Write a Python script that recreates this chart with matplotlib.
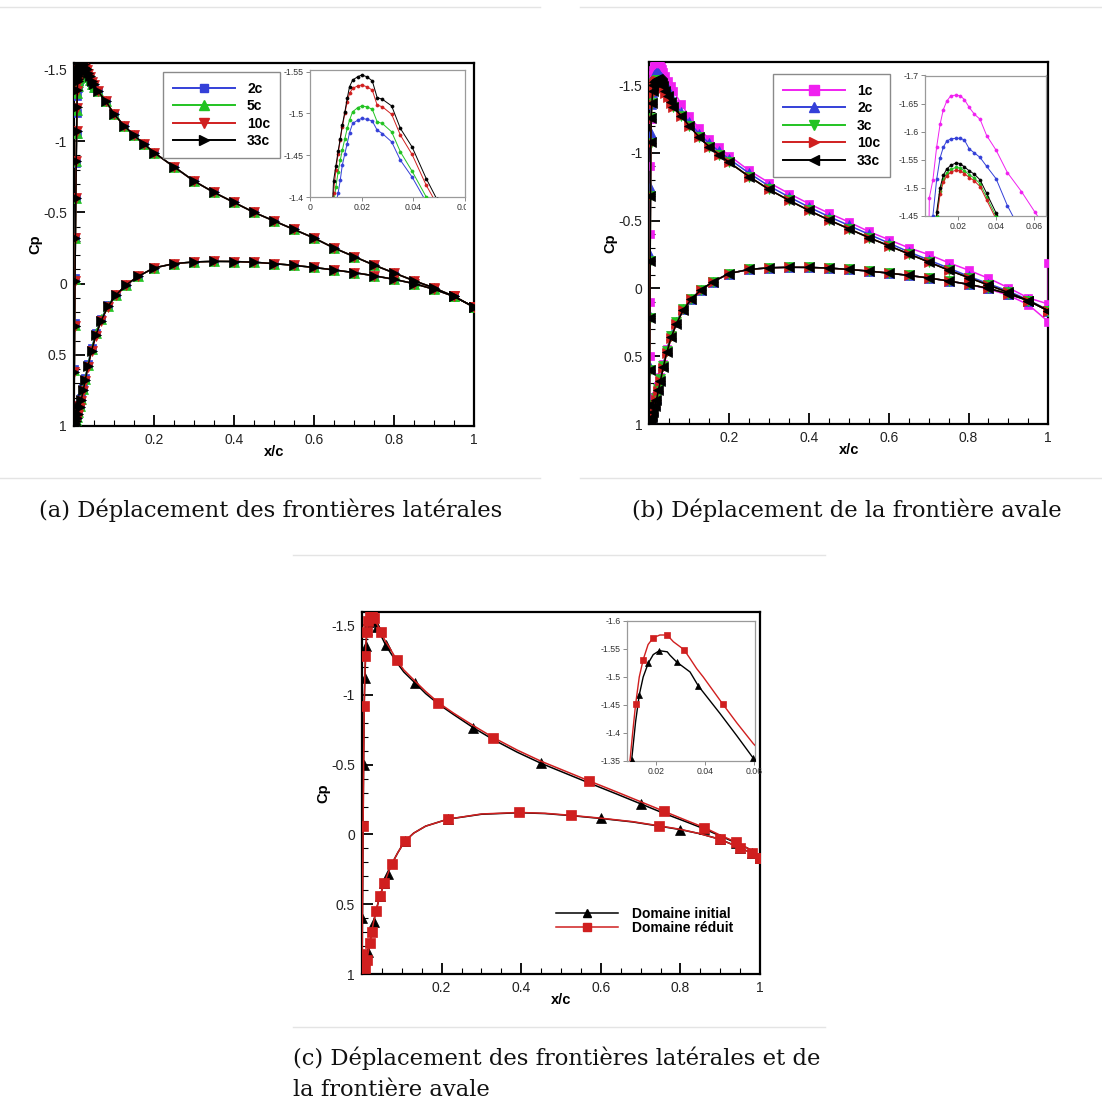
import matplotlib
matplotlib.use('Agg')
import matplotlib.pyplot as plt
from matplotlib.lines import Line2D
from matplotlib.ticker import FuncFormatter, MultipleLocator
from matplotlib.transforms import Bbox, TransformedBbox

plt.rcParams['axes.unicode_minus'] = False
plt.rcParams['font.family'] = ['Liberation Sans', 'DejaVu Sans']

# ---------------- DATA ----------------
# Panel (a) : upper surface grid (leading edge / peak region / rest)
x_le_a = [0.0, 0.0003, 0.0008, 0.0015, 0.0025, 0.0035, 0.0045, 0.0055, 0.0065, 0.0075, 0.0083]
x_pk_a = [0.0091, 0.0100, 0.0109, 0.0117, 0.0125, 0.0135, 0.0144, 0.0153, 0.0165, 0.0185,
          0.0200, 0.0220, 0.0241, 0.0260, 0.0280, 0.0316, 0.0350, 0.0395, 0.0450, 0.0490]
x_far = [0.06, 0.08, 0.10, 0.125, 0.15, 0.175, 0.20, 0.25, 0.30, 0.35, 0.40, 0.45, 0.50,
         0.55, 0.60, 0.65, 0.70, 0.75, 0.80, 0.85, 0.90, 0.95, 1.0]

cp_le_a_2c = [0.98, 0.85, 0.60, 0.28, -0.04, -0.33, -0.60, -0.85, -1.05, -1.20, -1.32]
cp_le_a_5c = [0.98, 0.86, 0.61, 0.29, -0.03, -0.32, -0.60, -0.86, -1.06, -1.22, -1.34]
cp_le_a_10c = [0.98, 0.86, 0.62, 0.30, -0.02, -0.32, -0.60, -0.86, -1.07, -1.23, -1.35]
cp_le_a_33c = [0.98, 0.86, 0.62, 0.30, -0.02, -0.32, -0.60, -0.86, -1.07, -1.24, -1.36]

cp_pk_a_2c = [-1.375, -1.392, -1.405, -1.420, -1.438, -1.452, -1.464, -1.477, -1.488, -1.492,
              -1.494, -1.493, -1.491, -1.480, -1.476, -1.466, -1.444, -1.424, -1.394, -1.372]
cp_pk_a_5c = [-1.390, -1.412, -1.430, -1.444, -1.456, -1.470, -1.482, -1.492, -1.502, -1.507,
              -1.509, -1.508, -1.505, -1.490, -1.488, -1.478, -1.454, -1.431, -1.400, -1.378]
cp_pk_a_10c = [-1.405, -1.432, -1.452, -1.468, -1.484, -1.500, -1.514, -1.524, -1.530, -1.533,
               -1.534, -1.532, -1.528, -1.510, -1.508, -1.499, -1.474, -1.451, -1.414, -1.392]
cp_pk_a_33c = [-1.419, -1.437, -1.455, -1.470, -1.486, -1.502, -1.518, -1.532, -1.540, -1.544,
               -1.546, -1.544, -1.539, -1.519, -1.517, -1.509, -1.482, -1.460, -1.422, -1.398]

cp_far_up = [-1.35, -1.28, -1.19, -1.11, -1.04, -0.98, -0.92, -0.82, -0.72, -0.64, -0.57, -0.50,
             -0.44, -0.38, -0.32, -0.25, -0.19, -0.13, -0.075, -0.02, 0.03, 0.09, 0.165]

# lower surface (shared grid)
x_lo_near = [0.0, 0.001, 0.002, 0.003, 0.005, 0.007, 0.010, 0.014, 0.018, 0.023, 0.028, 0.035,
             0.044, 0.055, 0.068, 0.085]
x_lo_far = [0.105, 0.13, 0.16, 0.20, 0.25, 0.30, 0.35, 0.40, 0.45, 0.50, 0.55, 0.60, 0.65,
            0.70, 0.75, 0.80, 0.85, 0.90, 0.95, 1.0]
cp_lo_near_2c = [0.98, 0.995, 0.99, 0.978, 0.958, 0.937, 0.90, 0.855, 0.805, 0.735, 0.665, 0.565,
                 0.455, 0.345, 0.248, 0.152]
cp_lo_near_5c = [0.98, 0.995, 0.99, 0.98, 0.96, 0.94, 0.905, 0.86, 0.81, 0.74, 0.67, 0.57,
                 0.46, 0.35, 0.25, 0.155]
cp_lo_near_10c = [0.98, 1.0, 0.995, 0.985, 0.968, 0.948, 0.92, 0.875, 0.825, 0.755, 0.685, 0.585,
                  0.475, 0.365, 0.262, 0.162]
cp_lo_near_33c = [0.98, 1.0, 0.995, 0.985, 0.965, 0.945, 0.915, 0.87, 0.82, 0.75, 0.68, 0.58,
                  0.47, 0.36, 0.26, 0.16]
cp_lo_far = [0.08, 0.01, -0.05, -0.11, -0.14, -0.152, -0.156, -0.155, -0.15, -0.14, -0.128,
             -0.113, -0.096, -0.077, -0.055, -0.03, 0.0, 0.04, 0.09, 0.165]

# Panel (b)
x_le_b = [0.0, 0.0003, 0.0008, 0.0015, 0.0022, 0.003, 0.0038]
x_pk_b = [0.0046, 0.0065, 0.0085, 0.0103, 0.0120, 0.0138, 0.0160, 0.0188, 0.0210, 0.0232,
          0.0258, 0.0285, 0.0315, 0.0350, 0.0400, 0.0460, 0.0535, 0.0605]
x_far_b = [0.08, 0.10, 0.125, 0.15, 0.175, 0.20, 0.25, 0.30, 0.35, 0.40, 0.45, 0.50, 0.55,
           0.60, 0.65, 0.70, 0.75, 0.80, 0.85, 0.90, 0.95, 1.0]

cp_le_b_1c = [0.98, 0.80, 0.50, 0.10, -0.40, -0.90, -1.25]
cp_le_b_2c = [0.98, 0.85, 0.58, 0.20, -0.25, -0.75, -1.15]
cp_le_b_3c = [0.98, 0.86, 0.60, 0.22, -0.20, -0.68, -1.075]
cp_le_b_10c = [0.98, 0.86, 0.60, 0.22, -0.20, -0.68, -1.07]
cp_le_b_33c = [0.98, 0.86, 0.60, 0.22, -0.20, -0.68, -1.08]

cp_pk_b_1c = [-1.482, -1.514, -1.573, -1.613, -1.639, -1.654, -1.664, -1.665, -1.664, -1.657,
              -1.643, -1.631, -1.622, -1.593, -1.567, -1.527, -1.493, -1.457]
cp_pk_b_2c = [-1.36, -1.45, -1.515, -1.553, -1.572, -1.583, -1.587, -1.588, -1.588, -1.585,
              -1.569, -1.562, -1.554, -1.538, -1.516, -1.468, -1.42, -1.375]
cp_pk_b_3c = [-1.255, -1.365, -1.45, -1.494, -1.515, -1.526, -1.533, -1.536, -1.535, -1.530,
              -1.523, -1.517, -1.507, -1.483, -1.449, -1.414, -1.371, -1.337]
cp_pk_b_10c = [-1.25, -1.36, -1.445, -1.488, -1.51, -1.521, -1.528, -1.531, -1.530, -1.525,
               -1.518, -1.512, -1.502, -1.478, -1.444, -1.41, -1.368, -1.335]
cp_pk_b_33c = [-1.26, -1.37, -1.457, -1.50, -1.522, -1.533, -1.540, -1.544, -1.543, -1.537,
               -1.530, -1.524, -1.514, -1.49, -1.455, -1.42, -1.375, -1.34]

cp_far_b_1c = [-1.36, -1.27, -1.18, -1.10, -1.04, -0.98, -0.87, -0.78, -0.70, -0.625, -0.555,
               -0.49, -0.42, -0.36, -0.30, -0.25, -0.19, -0.135, -0.075, -0.005, 0.07, 0.115]
cp_far_b_2c = [-1.30, -1.225, -1.14, -1.07, -1.01, -0.955, -0.85, -0.755, -0.675, -0.60, -0.53,
               -0.465, -0.40, -0.335, -0.27, -0.21, -0.15, -0.09, -0.035, 0.02, 0.085, 0.16]
cp_far_b = [-1.27, -1.20, -1.115, -1.045, -0.985, -0.93, -0.825, -0.73, -0.65, -0.575, -0.505,
            -0.44, -0.375, -0.315, -0.255, -0.195, -0.135, -0.08, -0.025, 0.03, 0.09, 0.165]
x_te_1c = [1.0]
cp_te_1c = [-0.185]

cp_lo_near_b_1c = [0.98, 0.99, 0.985, 0.97, 0.945, 0.92, 0.885, 0.84, 0.79, 0.72, 0.65, 0.555,
                   0.45, 0.345, 0.25, 0.155]
cp_lo_far_b_1c = [0.075, 0.01, -0.05, -0.11, -0.14, -0.152, -0.156, -0.155, -0.15, -0.14, -0.128,
                  -0.113, -0.096, -0.077, -0.055, -0.03, 0.005, 0.05, 0.12, 0.245]

# Panel (c)
x_up_init = [0.0, 0.0005, 0.001, 0.0018, 0.0028, 0.004, 0.0055, 0.0072, 0.0088, 0.0101, 0.0117,
             0.0132, 0.0148, 0.0169, 0.0189, 0.0214, 0.0246, 0.0257, 0.0284, 0.0339, 0.0373,
             0.0461, 0.0530, 0.0597, 0.070, 0.087, 0.105, 0.133, 0.16, 0.192, 0.23, 0.28, 0.33,
             0.39, 0.45, 0.51, 0.57, 0.64, 0.70, 0.76, 0.82, 0.86, 0.90, 0.94, 0.97, 1.0]
cp_up_init = [0.98, 0.86, 0.60, 0.30, -0.06, -0.50, -0.92, -1.12, -1.25, -1.352, -1.42, -1.468,
              -1.50, -1.525, -1.540, -1.547, -1.545, -1.539, -1.527, -1.509, -1.484, -1.435,
              -1.395, -1.355, -1.31, -1.235, -1.165, -1.087, -1.01, -0.935, -0.86, -0.765, -0.68,
              -0.59, -0.51, -0.44, -0.37, -0.29, -0.22, -0.15, -0.085, -0.04, 0.01, 0.06, 0.10,
              0.165]
x_up_red = [0.0, 0.0005, 0.001, 0.0018, 0.0028, 0.004, 0.0055, 0.0072, 0.0085, 0.0094, 0.0105,
            0.0117, 0.0132, 0.0148, 0.0168, 0.0189, 0.0216, 0.0246, 0.0271, 0.0314, 0.0339,
            0.0366, 0.0393, 0.0472, 0.0530, 0.0597, 0.070, 0.087, 0.105, 0.133, 0.16, 0.192,
            0.23, 0.28, 0.33, 0.39, 0.45, 0.51, 0.57, 0.64, 0.70, 0.76, 0.82, 0.86, 0.90, 0.94,
            0.97, 1.0]
cp_up_red = [0.98, 0.86, 0.60, 0.30, -0.06, -0.50, -0.92, -1.15, -1.28, -1.35, -1.40, -1.451,
             -1.50, -1.531, -1.558, -1.570, -1.575, -1.575, -1.563, -1.549, -1.533, -1.515,
             -1.500, -1.452, -1.418, -1.381, -1.335, -1.253, -1.18, -1.10, -1.025, -0.945, -0.87,
             -0.78, -0.695, -0.605, -0.525, -0.455, -0.385, -0.305, -0.235, -0.165, -0.095,
             -0.05, 0.005, 0.055, 0.10, 0.165]
x_lo_c = [0.0, 0.001, 0.003, 0.005, 0.008, 0.012, 0.016, 0.020, 0.024, 0.029, 0.035, 0.045,
          0.056, 0.065, 0.075, 0.090, 0.107, 0.13, 0.16, 0.216, 0.30, 0.395, 0.46, 0.526, 0.60,
          0.68, 0.747, 0.80, 0.85, 0.90, 0.95, 0.98, 1.0]
cp_lo_init = [0.98, 1.0, 0.99, 0.975, 0.955, 0.90, 0.84, 0.78, 0.70, 0.63, 0.55, 0.44, 0.35,
              0.28, 0.21, 0.13, 0.05, -0.01, -0.06, -0.11, -0.145, -0.156, -0.15, -0.135,
              -0.115, -0.09, -0.06, -0.035, -0.005, 0.035, 0.095, 0.135, 0.165]
cp_lo_red = [0.98, 1.0, 0.99, 0.975, 0.955, 0.90, 0.84, 0.78, 0.70, 0.63, 0.55, 0.44, 0.35,
             0.28, 0.21, 0.13, 0.05, -0.01, -0.06, -0.11, -0.147, -0.158, -0.152, -0.137,
             -0.117, -0.092, -0.062, -0.037, -0.005, 0.035, 0.095, 0.135, 0.165]

labels_a = ['2c', '5c', '10c', '33c']
labels_b = ['1c', '2c', '3c', '10c', '33c']
labels_c = ['Domaine initial', 'Domaine réduit']
captions = ['(a) Déplacement des frontières latérales',
            '(b) Déplacement de la frontière avale',
            '(c) Déplacement des frontières latérales et de',
            'la frontière avale']

# ---------------- STYLE ----------------
BLUE, GREEN, RED, BLACK, MAG = '#3440d8', '#22c322', '#d01f1f', '#000000', '#f020f0'

W, H = 1102, 1106
fig = plt.figure(figsize=(W / 100, H / 100), dpi=100)
fig.patch.set_facecolor('white')


def axes_px(l, t, r, b):
    return fig.add_axes([l / W, 1 - b / H, (r - l) / W, (b - t) / H])


fmt = FuncFormatter(lambda v, p: f'{v:g}')


def style_main(ax, top):
    ax.set_xlim(0, 1)
    ax.set_ylim(1, top)
    for s in ax.spines.values():
        s.set_linewidth(1.6)
    ax.set_xticks([0.2, 0.4, 0.6, 0.8, 1.0])
    ax.xaxis.set_minor_locator(MultipleLocator(0.05))
    ax.set_yticks([-1.5, -1, -0.5, 0, 0.5, 1])
    ax.yaxis.set_minor_locator(MultipleLocator(0.1))
    ax.xaxis.set_major_formatter(fmt)
    ax.yaxis.set_major_formatter(fmt)
    ax.tick_params(which='major', direction='in', length=8, width=1.3, labelsize=10,
                   pad=5, labelcolor='#222222')
    ax.tick_params(which='minor', direction='in', length=4, width=0.8)
    ax.tick_params(which='both', top=False, right=False)
    ax.set_xlabel('x/c', fontsize=10.5, fontweight='bold')
    ax.set_ylabel('Cp', fontsize=10.5, fontweight='bold')
    h = ax.get_position().height * H
    w = ax.get_position().width * W
    ax.xaxis.set_label_coords(0.5, -19 / h)
    ax.yaxis.set_label_coords(-32 / w, 0.5)


def style_inset(ax, xlim, ylim, xticks, yticks):
    ax.set_xlim(*xlim)
    ax.set_ylim(*ylim)
    for s in ax.spines.values():
        s.set_color('#9a9a9a')
        s.set_linewidth(0.9)
    ax.set_xticks(xticks)
    ax.set_yticks(yticks)
    ax.xaxis.set_major_formatter(fmt)
    ax.yaxis.set_major_formatter(fmt)
    ax.tick_params(direction='out', length=3, width=0.6, color='#777777', labelsize=6.3,
                   pad=1.5, labelcolor='#333333')


def draw(ax, x, y, color, marker, ms, lw, z, every=None):
    ax.plot(x, y, color=color, lw=lw, marker=marker, ms=ms, mfc=color, mec=color,
            mew=0.5, markevery=every, zorder=z, clip_on=True)


def legend(ax, handles, labels, anchor, frame=True, spacing=0.25, fs=10, tpad=0.85):
    lg = ax.legend(handles, labels, loc='upper left', bbox_to_anchor=(anchor[0] / W, 1 - anchor[1] / H),
                   bbox_transform=fig.transFigure, frameon=frame, fancybox=False,
                   edgecolor='#8a8a8a', framealpha=1, handlelength=4.5, handletextpad=tpad,
                   borderpad=0.7, borderaxespad=0, labelspacing=spacing, numpoints=1,
                   prop={'family': 'Liberation Sans', 'weight': 'bold', 'size': fs})
    lg.get_frame().set_linewidth(1.0)
    lg.set_zorder(20)
    return lg


# ---------------- PANEL (a) ----------------
axa = axes_px(74, 62.7, 474, 426)
style_main(axa, -1.551)
ins_a = axes_px(310, 70, 465, 197)
style_inset(ins_a, (0, 0.06), (-1.4, -1.552), [0, 0.02, 0.04, 0.06], [-1.55, -1.5, -1.45, -1.4])
# the last inset tick label is cut at the inset frame, as in the original
clip = TransformedBbox(Bbox.from_extents(0, 0, 466 / W, 1), fig.transFigure)
for lbl in ins_a.get_xticklabels()[-1:]:
    lbl.set_clip_on(True)
    lbl.set_clip_box(clip)

series_a = [
    (cp_le_a_2c, cp_pk_a_2c, cp_lo_near_2c, BLUE, 's', 5.5),
    (cp_le_a_5c, cp_pk_a_5c, cp_lo_near_5c, GREEN, '^', 6.5),
    (cp_le_a_10c, cp_pk_a_10c, cp_lo_near_10c, RED, 'v', 6.5),
    (cp_le_a_33c, cp_pk_a_33c, cp_lo_near_33c, BLACK, '>', 7),
]
handles_a = []
for i, (le, pk, lon, c, m, ms) in enumerate(series_a):
    xu = x_le_a + x_pk_a + x_far
    yu = le + pk + cp_far_up
    xl = x_lo_near + x_lo_far
    yl = lon + cp_lo_far
    draw(axa, xu, yu, c, m, ms, 1.1, 3 + i)
    draw(axa, xl, yl, c, m, ms, 1.1, 3 + i)
    draw(ins_a, xu, yu, c, 'o', 2.2, 0.7, 3 + i)
    handles_a.append(Line2D([], [], color=c, lw=1.4, marker=m, ms=ms + 0.5, mfc=c, mec=c))
legend(axa, handles_a, labels_a, (163, 72))

# ---------------- PANEL (b) ----------------
axb = axes_px(649.3, 62, 1048.3, 424)
style_main(axb, -1.67)
ins_b = axes_px(925, 75.5, 1046, 215.7)
style_inset(ins_b, (0.0023, 0.0665), (-1.45, -1.70), [0.02, 0.04, 0.06],
            [-1.7, -1.65, -1.6, -1.55, -1.5, -1.45])

series_b = [
    (cp_le_b_1c, cp_pk_b_1c, cp_far_b_1c, cp_lo_near_b_1c, cp_lo_far_b_1c, MAG, 's', 6),
    (cp_le_b_2c, cp_pk_b_2c, cp_far_b_2c, cp_lo_near_2c, cp_lo_far, BLUE, '^', 6.5),
    (cp_le_b_3c, cp_pk_b_3c, cp_far_b, cp_lo_near_5c, cp_lo_far, GREEN, 'v', 6.5),
    (cp_le_b_10c, cp_pk_b_10c, cp_far_b, cp_lo_near_10c, cp_lo_far, RED, '>', 6.5),
    (cp_le_b_33c, cp_pk_b_33c, cp_far_b, cp_lo_near_33c, cp_lo_far, BLACK, '<', 7),
]
handles_b = []
for i, (le, pk, far, lon, lof, c, m, ms) in enumerate(series_b):
    xu = x_le_b + x_pk_b + x_far_b
    yu = le + pk + far
    if i == 0:
        xu = xu + x_te_1c
        yu = yu + cp_te_1c
    xl = x_lo_near + x_lo_far
    yl = lon + lof
    draw(axb, xu, yu, c, m, ms, 1.1, 3 + i)
    draw(axb, xl, yl, c, m, ms, 1.1, 3 + i)
    draw(ins_b, xu, yu, c, 'o', 2.2, 0.7, 3 + i)
    handles_b.append(Line2D([], [], color=c, lw=1.4, marker=m, ms=ms + 0.5, mfc=c, mec=c))
legend(axb, handles_b, labels_b, (773, 74))

# ---------------- PANEL (c) ----------------
axc = axes_px(362, 611.7, 760, 974)
style_main(axc, -1.597)
ins_c = axes_px(627, 621, 755, 761)
style_inset(ins_c, (0.0082, 0.0604), (-1.35, -1.60), [0.02, 0.04, 0.06],
            [-1.6, -1.55, -1.5, -1.45, -1.4, -1.35])

mk_up_init = [2, 5, 7, 9, 11, 13, 15, 18, 20, 23, 27, 31, 34, 38, 41, 43, 45]
mk_lo_init = [3, 6, 9, 11, 12, 13, 16, 19, 24, 27, 29, 30, 31, 32]
mk_up_red = [1, 4, 6, 8, 11, 13, 15, 17, 19, 23, 27, 31, 34, 38, 41, 43, 45, 47]
mk_lo_red = [4, 5, 7, 8, 10, 11, 12, 14, 16, 19, 21, 23, 26, 29, 30, 31, 32]

draw(axc, x_up_init, cp_up_init, BLACK, '^', 7, 1.1, 4, mk_up_init)
draw(axc, x_lo_c, cp_lo_init, BLACK, '^', 7, 1.1, 4, mk_lo_init)
draw(axc, x_up_red, cp_up_red, RED, 's', 7, 1.1, 5, mk_up_red)
draw(axc, x_lo_c, cp_lo_red, RED, 's', 7, 1.1, 5, mk_lo_red)
draw(ins_c, x_up_init, cp_up_init, BLACK, '^', 4.2, 1.0, 4, mk_up_init)
draw(ins_c, x_up_red, cp_up_red, RED, 's', 4.2, 1.0, 5, mk_up_red)
handles_c = [Line2D([], [], color=BLACK, lw=1.1, marker='^', ms=5.5),
             Line2D([], [], color=RED, lw=1.1, marker='s', ms=5.5)]
legend(axc, handles_c, labels_c, (546, 897), frame=False, spacing=0.0, fs=10, tpad=1.0)

# ---------------- CAPTIONS & SEPARATORS ----------------
cap_kw = dict(family='DejaVu Serif', fontsize=16.3, color='#111111')
fig.text(271 / W, 1 - 510 / H, captions[0], ha='center', va='center', **cap_kw)
fig.text(847 / W, 1 - 510 / H, captions[1], ha='center', va='center', **cap_kw)
fig.text(293 / W, 1 - 1058 / H, captions[2], ha='left', va='center', **cap_kw)
fig.text(293 / W, 1 - 1090 / H, captions[3], ha='left', va='center', **cap_kw)

sep = dict(color='#e4e4e4', lw=1.0)
for (x0, x1, y) in [(0, 540, 7), (580, 1102, 7), (0, 540, 478), (580, 1102, 478),
                    (293, 825, 555), (293, 825, 1027)]:
    fig.add_artist(Line2D([x0 / W, x1 / W], [1 - y / H, 1 - y / H], transform=fig.transFigure, **sep))

fig.savefig('out.png', dpi=100, facecolor='white')
